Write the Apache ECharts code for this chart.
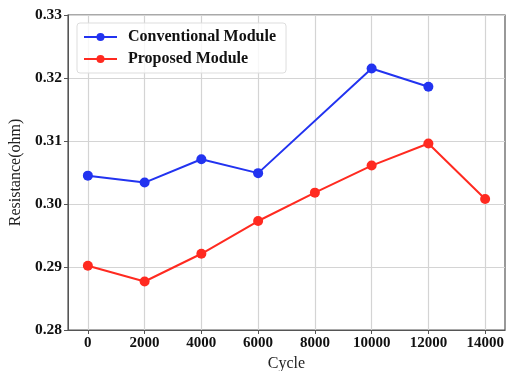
<!DOCTYPE html>
<html><head><meta charset="utf-8">
<script src="https://cdn.jsdelivr.net/npm/echarts@6/dist/echarts.min.js"></script>
<style>html,body{margin:0;padding:0;background:#fff}#c{width:511px;height:371px}</style>
</head><body><div id="c"></div>
<script>
var cycles = [0, 2000, 4000, 6000, 8000, 10000, 12000, 14000];
var conventional = [0.3045, 0.3034, 0.3071, 0.3049, null, 0.3215, 0.3186, null];
var proposed = [0.2902, 0.2877, 0.2921, 0.2973, 0.3018, 0.3061, 0.3096, 0.3008];
var xTicks = [0, 2000, 4000, 6000, 8000, 10000, 12000, 14000];
var yTicks = [0.28, 0.29, 0.30, 0.31, 0.32, 0.33];

function pairs(vals){ var o=[]; for (var i=0;i<cycles.length;i++){ if(vals[i]!==null) o.push([cycles[i], vals[i]]);} return o; }
var font = 'Liberation Serif, Times New Roman, serif';
var chart = echarts.init(document.getElementById('c'));
chart.setOption({
  animation:false,
  textStyle:{fontFamily:font},
  grid:{left:68, right:6, top:15, bottom:41, show:true, borderColor:'#555', borderWidth:1.2, containLabel:false, outerBoundsMode:'none'},
  legend:{
    orient:'vertical', left:77, top:23, itemWidth:33, itemHeight:10, itemGap:6,
    padding:[6,10,6,6], borderColor:'#ddd', borderWidth:1, borderRadius:3, backgroundColor:'rgba(255,255,255,0.8)',
    textStyle:{fontFamily:font, fontWeight:'bold', fontSize:16, color:'#111', padding:[0,0,0,6]},
    data:['Conventional Module','Proposed Module']
  },
  xAxis:{
    type:'value', min:-700, max:14700,
    name:'Cycle', nameLocation:'middle', nameGap:25,
    nameTextStyle:{fontFamily:font, fontSize:16, color:'#222'},
    axisLine:{show:true, onZero:false, lineStyle:{color:'#555'}},
    axisTick:{show:true, length:4, lineStyle:{color:'#555'}, customValues:xTicks},
    axisLabel:{fontFamily:font, fontWeight:'bold', fontSize:15, color:'#111', margin:6, customValues:xTicks, formatter:function(v){return String(v);}},
    splitLine:{show:true, lineStyle:{color:'#d4d4d4', width:1.2}},
    interval:2000
  },
  yAxis:{
    type:'value', min:0.28, max:0.33, interval:0.01,
    name:'Resistance(ohm)', nameLocation:'middle', nameGap:41,
    nameTextStyle:{fontFamily:font, fontSize:16, color:'#222'},
    axisLine:{show:true, onZero:false, lineStyle:{color:'#555'}},
    axisTick:{show:true, length:4, lineStyle:{color:'#555'}},
    axisLabel:{fontFamily:font, fontWeight:'bold', fontSize:15.5, color:'#111', margin:6, formatter:function(v){return v.toFixed(2);}},
    splitLine:{show:true, lineStyle:{color:'#d4d4d4', width:1.2}}
  },
  series:[
    {name:'Conventional Module', type:'line', data:pairs(conventional), symbol:'circle', symbolSize:10,
     itemStyle:{color:'#2233f0'}, lineStyle:{color:'#2233f0', width:2}},
    {name:'Proposed Module', type:'line', data:pairs(proposed), symbol:'circle', symbolSize:10,
     itemStyle:{color:'#ff2a20'}, lineStyle:{color:'#ff2a20', width:2}}
  ]
});
</script></body></html>
